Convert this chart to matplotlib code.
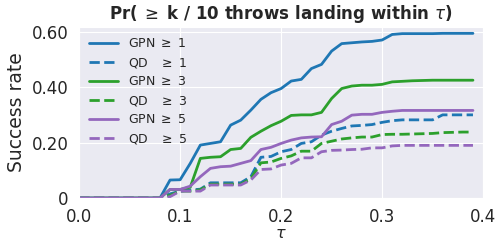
import matplotlib
matplotlib.use("Agg")
import matplotlib.pyplot as plt
import seaborn as sns

sns.set_style("darkgrid")

tau = [0.00, 0.01, 0.02, 0.03, 0.04, 0.05, 0.06, 0.07, 0.08, 0.09,
       0.10, 0.11, 0.12, 0.13, 0.14, 0.15, 0.16, 0.17, 0.18, 0.19,
       0.20, 0.21, 0.22, 0.23, 0.24, 0.25, 0.26, 0.27, 0.28, 0.29,
       0.30, 0.31, 0.32, 0.33, 0.34, 0.35, 0.36, 0.37, 0.38, 0.39]

zeros = [0.0] * 9

gpn_1 = zeros + [0.065, 0.066, 0.125, 0.191, 0.197, 0.203, 0.263, 0.281, 0.317, 0.356,
                 0.380, 0.395, 0.422, 0.428, 0.467, 0.482, 0.530, 0.557, 0.560, 0.563,
                 0.565, 0.570, 0.590, 0.593, 0.593, 0.593, 0.593, 0.594, 0.594, 0.594, 0.594]
qd_1 = zeros + [0.015, 0.025, 0.029, 0.032, 0.055, 0.055, 0.055, 0.055, 0.077, 0.147,
                0.150, 0.167, 0.175, 0.197, 0.203, 0.227, 0.241, 0.251, 0.260, 0.262,
                0.265, 0.273, 0.279, 0.282, 0.282, 0.282, 0.282, 0.300, 0.300, 0.300, 0.300]
gpn_3 = zeros + [0.031, 0.031, 0.039, 0.143, 0.147, 0.149, 0.175, 0.179, 0.219, 0.241,
                 0.261, 0.277, 0.298, 0.300, 0.300, 0.309, 0.359, 0.395, 0.404, 0.407,
                 0.407, 0.410, 0.419, 0.421, 0.423, 0.424, 0.425, 0.425, 0.425, 0.425, 0.425]
qd_3 = zeros + [0.010, 0.025, 0.025, 0.030, 0.050, 0.050, 0.050, 0.050, 0.070, 0.127,
                0.130, 0.143, 0.152, 0.169, 0.169, 0.197, 0.205, 0.213, 0.217, 0.220,
                0.220, 0.229, 0.230, 0.230, 0.231, 0.232, 0.233, 0.236, 0.237, 0.238, 0.238]
gpn_5 = zeros + [0.031, 0.031, 0.043, 0.077, 0.107, 0.113, 0.115, 0.125, 0.135, 0.175,
                 0.183, 0.197, 0.209, 0.217, 0.220, 0.221, 0.265, 0.277, 0.299, 0.302,
                 0.302, 0.309, 0.313, 0.316, 0.316, 0.316, 0.316, 0.316, 0.316, 0.316, 0.316]
qd_5 = zeros + [0.005, 0.025, 0.025, 0.025, 0.047, 0.047, 0.047, 0.047, 0.065, 0.103,
                0.105, 0.119, 0.125, 0.145, 0.145, 0.167, 0.172, 0.173, 0.175, 0.176,
                0.181, 0.181, 0.188, 0.190, 0.190, 0.190, 0.190, 0.190, 0.190, 0.190, 0.190]

series = [
    (r'GPN $\geq$ 1', gpn_1, 'tab:blue', '-'),
    (r'QD   $\geq$ 1', qd_1, 'tab:blue', '--'),
    (r'GPN $\geq$ 3', gpn_3, 'tab:green', '-'),
    (r'QD   $\geq$ 3', qd_3, 'tab:green', '--'),
    (r'GPN $\geq$ 5', gpn_5, 'tab:purple', '-'),
    (r'QD   $\geq$ 5', qd_5, 'tab:purple', '--'),
]

yticks = [0, 0.2, 0.4, 0.6]
ytick_labels = ['0', '0.20', '0.40', '0.60']

fig, ax = plt.subplots(figsize=(4.98, 2.43), dpi=100)
plt.subplots_adjust(left=0.159, right=0.970, top=0.889, bottom=0.185)

for label, vals, color, ls in series:
    ax.plot(tau, vals, color=color, linestyle=ls, linewidth=2, label=label)

ax.set_xlim(0, 0.4)
ax.set_ylim(0, 0.617)
ax.set_xticks([0.0, 0.1, 0.2, 0.3, 0.4])
ax.set_yticks(yticks)
ax.set_yticklabels(ytick_labels)
ax.tick_params(labelsize=12, pad=4)

ax.set_xlabel(r'$\tau$', fontsize=11.5, labelpad=0)
ax.set_ylabel('Success rate', fontsize=13.5)
ax.set_title(r'Pr($\;\geq\;$k / 10 throws landing within $\tau$)', fontsize=12, fontweight='bold')
ax.legend(loc='upper left', fontsize=9, frameon=False, handlelength=2.3,
          labelspacing=0.45, borderaxespad=0.4)

plt.savefig('out.png', dpi=100)
